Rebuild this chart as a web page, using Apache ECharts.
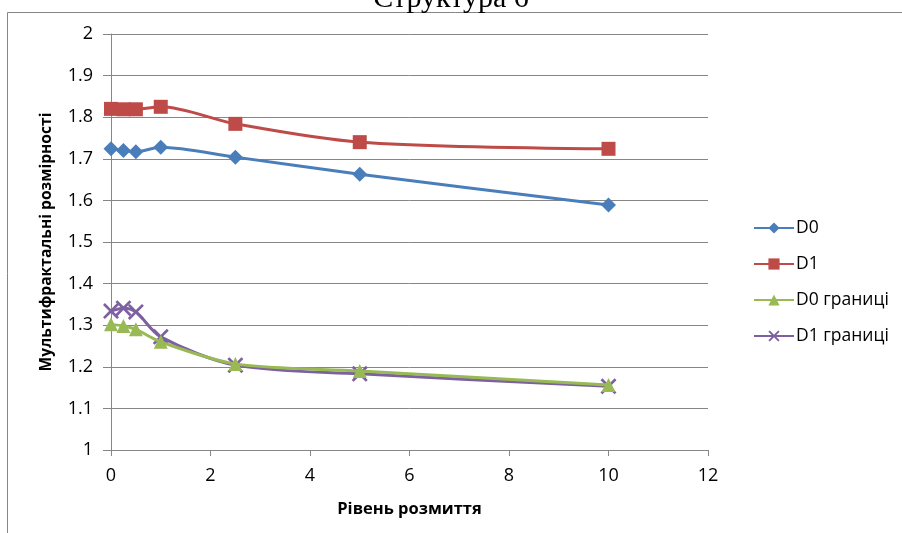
<!DOCTYPE html>
<html>
<head>
<meta charset="utf-8">
<script src="https://cdn.jsdelivr.net/npm/echarts@6/dist/echarts.min.js"></script>
<style>
  html, body { margin: 0; padding: 0; background: #fff; }
  #chart { width: 902px; height: 533px; }
</style>
</head>
<body>
<div id="chart"></div>
<script>
  // рівні розмиття (вісь X)
  var levels = [0, 0.25, 0.5, 1, 2.5, 5, 10]
  var d0 = [1.724, 1.720, 1.717, 1.728, 1.704, 1.663, 1.589]
  var d1 = [1.820, 1.819, 1.819, 1.825, 1.784, 1.740, 1.724]
  var d0Bounds = [1.302, 1.298, 1.290, 1.260, 1.207, 1.190, 1.156]
  var d1Bounds = [1.334, 1.341, 1.332, 1.272, 1.204, 1.183, 1.153]

  var seriesNames = ['D0', 'D1', 'D0 границі', 'D1 границі']
  var colors = ['#4A7EBB', '#BE4B48', '#98B954', '#7D60A0']
  var crossPath = 'path://M0,1.2L1.2,0L5,3.8L8.8,0L10,1.2L6.2,5L10,8.8L8.8,10L5,6.2L1.2,10L0,8.8L3.8,5Z'
  var symbols = ['diamond', 'rect', 'triangle', crossPath]
  var symbolSizes = [15, 14, 14, 16]

  function pairs(vals) {
    return levels.map(function (x, i) { return [x, vals[i]] })
  }
  var allData = [d0, d1, d0Bounds, d1Bounds]

  var chart = echarts.init(document.getElementById('chart'))
  var font = '"Open Sans", "Noto Sans", sans-serif'

  chart.setOption({
    animation: false,
    title: {
      text: 'Структура 6',
      left: 'center',
      top: -21,
      textStyle: { fontFamily: '"Liberation Serif", serif', fontWeight: 'normal', fontSize: 30, color: '#000' }
    },
    graphic: [
      {
        type: 'rect',
        shape: { x: 7.5, y: 12.5, width: 1000, height: 1000 },
        style: { fill: 'none', stroke: '#868686', lineWidth: 1 },
        silent: true,
        z: -1
      }
    ],
    legend: {
      orient: 'vertical',
      left: 748,
      top: 214,
      itemGap: 18,
      itemWidth: 40,
      itemHeight: 14,
      data: seriesNames,
      textStyle: { fontFamily: font, fontSize: 17.5, color: '#000', padding: [0, 0, 0, -3] }
    },
    grid: { left: 111, right: 194, top: 34, bottom: 83 },
    xAxis: {
      type: 'value',
      min: 0,
      max: 12,
      interval: 2,
      name: 'Рівень розмиття',
      nameLocation: 'middle',
      nameGap: 51,
      nameTextStyle: { fontFamily: font, fontSize: 16.5, fontWeight: 'bold', color: '#000' },
      axisLine: { show: true, lineStyle: { color: '#868686' } },
      axisTick: { show: true, length: 6, lineStyle: { color: '#868686' } },
      axisLabel: { fontFamily: font, fontSize: 18, color: '#000', margin: 17 },
      splitLine: { show: false }
    },
    yAxis: {
      type: 'value',
      min: 1,
      max: 2,
      interval: 0.1,
      name: 'Мультифрактальні розмірності',
      nameLocation: 'middle',
      nameGap: 56,
      nameTextStyle: { fontFamily: font, fontSize: 15.6, fontWeight: 'bold', color: '#000' },
      axisLine: { show: true, lineStyle: { color: '#868686' } },
      axisTick: { show: true, length: 8, lineStyle: { color: '#868686' } },
      axisLabel: { fontFamily: font, fontSize: 18, color: '#000', margin: 18 },
      splitLine: { show: true, lineStyle: { color: '#868686', width: 1 } }
    },
    series: seriesNames.map(function (name, i) {
      return {
        name: name,
        type: 'line',
        smooth: 0.3,
        data: pairs(allData[i]),
        symbol: symbols[i],
        symbolSize: symbolSizes[i],
        showAllSymbol: true,
        itemStyle: { color: colors[i] },
        lineStyle: { color: colors[i], width: 3 },
        z: 10 - i
      }
    })
  })
</script>
</body>
</html>
